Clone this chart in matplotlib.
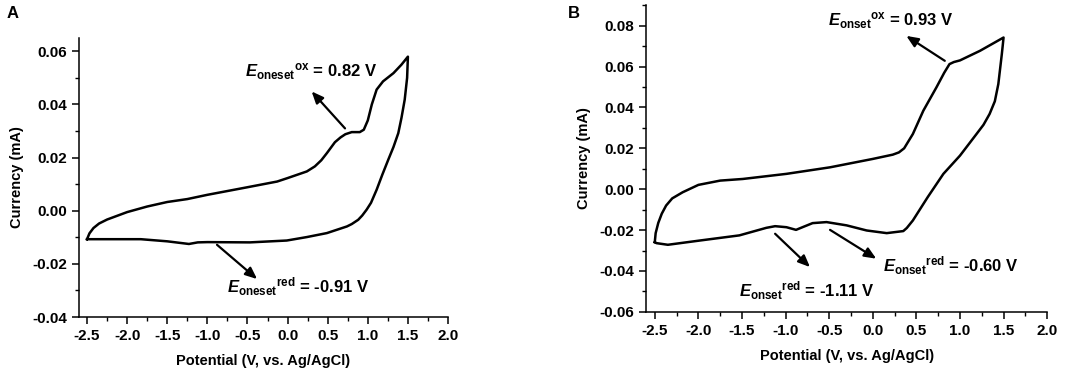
import matplotlib
matplotlib.use("Agg")
import matplotlib.pyplot as plt
from matplotlib.ticker import MultipleLocator

plt.rcParams["font.family"] = ["Liberation Sans", "DejaVu Sans"]
plt.rcParams["font.weight"] = "bold"
plt.rcParams["mathtext.fontset"] = "custom"
plt.rcParams["mathtext.rm"] = "Liberation Sans:bold"
plt.rcParams["mathtext.bf"] = "Liberation Sans:bold"
plt.rcParams["mathtext.it"] = "Liberation Sans:bold:italic"

# panel A: forward scan (-2.5 -> 1.5) then reverse scan (1.5 -> -2.5)
a_fwd_x = [-2.5, -2.47, -2.42, -2.35, -2.25, -2.0, -1.75, -1.5, -1.25, -1.0, -0.51, -0.13, 0.0,
           0.24, 0.34, 0.42, 0.49, 0.59, 0.66, 0.72, 0.80, 0.90, 0.95, 1.0, 1.05, 1.11, 1.19, 1.32, 1.42, 1.5]
a_fwd_y = [-0.0107, -0.0085, -0.0065, -0.0048, -0.0033, -0.0005, 0.0016, 0.0033, 0.0044, 0.0060, 0.0088, 0.0110, 0.0123,
           0.0148, 0.0167, 0.0190, 0.0217, 0.0258, 0.0276, 0.0288, 0.0296, 0.0296, 0.0305, 0.0340, 0.0400, 0.0456, 0.0487, 0.0518, 0.0550, 0.0580]
a_rev_x = [1.5, 1.49, 1.46, 1.42, 1.38, 1.32, 1.255, 1.18, 1.11, 1.04, 0.985, 0.93, 0.88, 0.80, 0.74, 0.49, 0.24, -0.01,
           -0.47, -1.0, -1.12, -1.23, -1.5, -1.83, -2.5]
a_rev_y = [0.0580, 0.0500, 0.0418, 0.0350, 0.0292, 0.0240, 0.0192, 0.0135, 0.0079, 0.0030, 0.0004, -0.0018, -0.0034, -0.0050, -0.0059, -0.0084, -0.0099, -0.0112,
           -0.0119, -0.0118, -0.0119, -0.0125, -0.0115, -0.0107, -0.0107]

# panel B
b_fwd_x = [-2.5, -2.49, -2.46, -2.42, -2.37, -2.30, -2.18, -2.0, -1.75, -1.49, -0.99, -0.49, 0.0, 0.23,
           0.30, 0.36, 0.46, 0.58, 0.73, 0.82, 0.88, 0.93, 1.0, 1.23, 1.5]
b_fwd_y = [-0.0259, -0.0215, -0.0165, -0.0120, -0.0080, -0.0045, -0.0015, 0.0021, 0.0042, 0.0050, 0.0075, 0.0107, 0.0148, 0.0169,
           0.0180, 0.0200, 0.0270, 0.0384, 0.0498, 0.0570, 0.0612, 0.0622, 0.0630, 0.0677, 0.0742]
b_rev_x = [1.5, 1.49, 1.48, 1.44, 1.40, 1.34, 1.27, 1.19, 1.0, 0.81, 0.63, 0.46, 0.39, 0.35, 0.16, -0.07,
           -0.30, -0.53, -0.69, -0.80, -0.88, -0.99, -1.12, -1.22, -1.53, -1.98, -2.35, -2.48, -2.5]
b_rev_y = [0.0742, 0.0700, 0.0660, 0.0514, 0.0430, 0.0368, 0.0315, 0.0270, 0.0164, 0.0075, -0.0039, -0.0153, -0.0190, -0.0205, -0.0215, -0.0202,
           -0.0177, -0.0161, -0.0166, -0.0185, -0.0199, -0.0186, -0.0181, -0.0189, -0.0226, -0.0251, -0.0272, -0.0264, -0.0259]

# annotations: (subscript, superscript, value, text xy, arrow tail, arrow head)
a_notes = [
    ("oneset", "ox", "0.82 V", (-0.53, 0.0525), (0.716, 0.0310), (0.30, 0.0449)),
    ("oneset", "red", "-0.91 V", (-0.75, -0.0285), (-0.88, -0.0128), (-0.38, -0.0257)),
]
b_notes = [
    ("onset", "ox", "0.93 V", (-0.51, 0.0824), (0.826, 0.0628), (0.385, 0.0750)),
    ("onset", "red", "-1.11 V", (-1.53, -0.0495), (-1.12, -0.0218), (-0.72, -0.0381)),
    ("onset", "red", "-0.60 V", (0.12, -0.0373), (-0.49, -0.0199), (0.04, -0.0340)),
]


def draw_panel(ax, fx, fy, rx, ry, ylim, ymajor, notes):
    ax.plot(fx + rx, fy + ry, color="black", lw=1.8, solid_joinstyle="round")
    ax.set_xlim(-2.6, 2.0)
    ax.set_ylim(*ylim)
    ax.xaxis.set_major_locator(MultipleLocator(0.5))
    ax.xaxis.set_minor_locator(MultipleLocator(0.25))
    ax.yaxis.set_major_locator(MultipleLocator(ymajor))
    ax.yaxis.set_minor_locator(MultipleLocator(ymajor / 2))
    ax.yaxis.set_major_formatter(plt.FormatStrFormatter("%.2f"))
    ax.xaxis.set_major_formatter(plt.FormatStrFormatter("%.1f"))
    for s in ["top", "right"]:
        ax.spines[s].set_visible(False)
    for s in ["left", "bottom"]:
        ax.spines[s].set_linewidth(1.1)
    ax.tick_params(which="major", direction="out", length=5, width=1.1, labelsize=11)
    ax.tick_params(which="minor", direction="out", length=3, width=1.0)
    ax.set_xlabel("Potential (V, vs. Ag/AgCl)", fontsize=10.5, fontweight="bold", labelpad=8)
    ax.set_ylabel("Currency (mA)", fontsize=10.5, fontweight="bold", labelpad=6)
    for sub, sup, val, txy, tail, head in notes:
        ax.text(txy[0], txy[1], r"$E_{\rm %s}{}^{\rm %s}$ = %s" % (sub, sup, val),
                fontsize=12, fontweight="bold", va="center", ha="left")
        ax.annotate("", xy=head, xytext=tail,
                    arrowprops=dict(arrowstyle="-|>,head_length=0.7,head_width=0.3",
                                    color="black", lw=1.6, shrinkA=0, shrinkB=0))


fig = plt.figure(figsize=(10.84, 3.73), dpi=100)
ax_a = fig.add_axes([0.0729, 0.150, 0.3404, 0.748])
ax_b = fig.add_axes([0.596, 0.164, 0.370, 0.822])

draw_panel(ax_a, a_fwd_x, a_fwd_y, a_rev_x, a_rev_y, (-0.04, 0.065), 0.02, a_notes)
draw_panel(ax_b, b_fwd_x, b_fwd_y, b_rev_x, b_rev_y, (-0.06, 0.09), 0.02, b_notes)

fig.text(0.006, 0.965, "A", fontsize=12, fontweight="bold", va="center")
fig.text(0.524, 0.965, "B", fontsize=12, fontweight="bold", va="center")

fig.savefig("out.png", dpi=100)
